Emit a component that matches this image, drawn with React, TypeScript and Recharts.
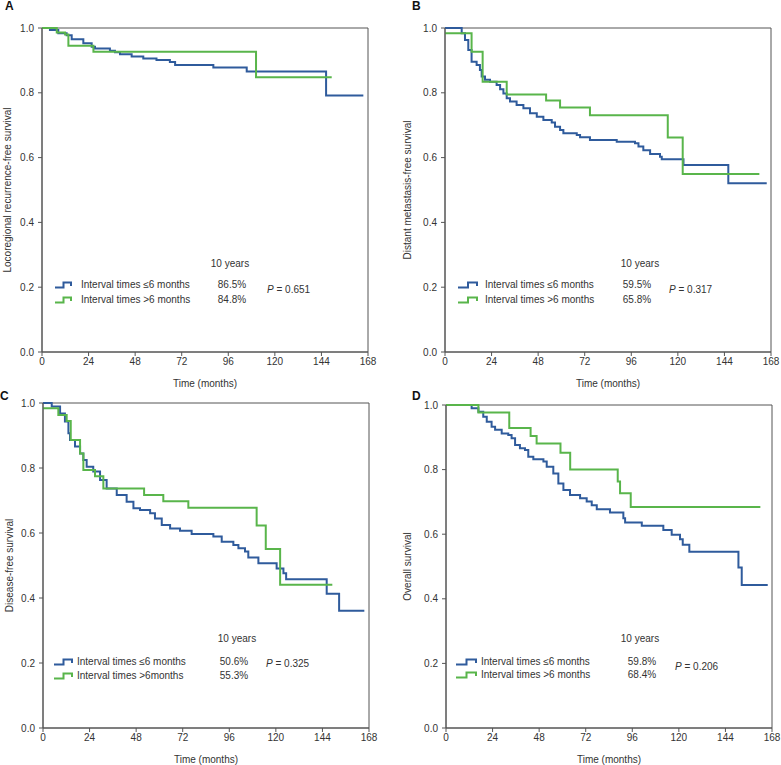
import React from 'react';
import { LineChart, Line, XAxis, YAxis, ReferenceArea } from 'recharts';

const monthTicks = [0, 24, 48, 72, 96, 120, 144, 168];
const survivalTicks = [0, 0.2, 0.4, 0.6, 0.8, 1.0];

const seriesNames = ['Interval times \u22646 months', 'Interval times >6 months'];

// Panel A: locoregional recurrence-free survival
const aShortTimes = [0, 4.1, 8.4, 12.7, 15.3, 21.3, 25.6, 27.3, 35, 37.6, 40.2, 46.2, 52.2, 59, 65.9, 68.6, 88.3, 105.5, 146.4, 165.6];
const aShortSurv = [1, 0.994, 0.984, 0.978, 0.965, 0.953, 0.942, 0.937, 0.93, 0.925, 0.919, 0.912, 0.906, 0.901, 0.895, 0.886, 0.878, 0.866, 0.792, 0.792];
const aLongTimes = [0, 7.6, 11.9, 13.6, 26.5, 110.3, 149.3];
const aLongSurv = [1, 0.986, 0.98, 0.945, 0.927, 0.848, 0.848];

// Panel B: distant metastasis-free survival
const bShortTimes = [0, 6.0, 8.6, 10.3, 12.0, 13.7, 16.3, 18.0, 18.9, 20.6, 23.2, 26.6, 28.4, 30.1, 31.8, 33.5, 36.9, 40.4, 43.8, 47.3, 50.7, 55.0, 56.7, 59.3, 61.0, 67.9, 69.6, 74.7, 88.5, 97.9, 99.7, 102.2, 105.7, 110.8, 111.7, 122.9, 146.0, 165.8];
const bShortSurv = [1, 1, 0.984, 0.963, 0.932, 0.896, 0.886, 0.87, 0.85, 0.84, 0.834, 0.824, 0.811, 0.798, 0.783, 0.773, 0.762, 0.752, 0.737, 0.726, 0.716, 0.708, 0.695, 0.685, 0.675, 0.67, 0.663, 0.654, 0.649, 0.644, 0.634, 0.623, 0.611, 0.603, 0.595, 0.577, 0.521, 0.521];
const bLongTimes = [0, 13.7, 19.4, 31.8, 52.1, 59.3, 74.7, 114.8, 122.5, 162];
const bLongSurv = [0.984, 0.927, 0.834, 0.795, 0.776, 0.755, 0.731, 0.662, 0.549, 0.549];

// Panel C: disease-free survival
const cShortTimes = [0, 4.5, 8.8, 11.3, 13.1, 13.9, 16.5, 19.1, 20.8, 22.5, 25.9, 29.4, 32.8, 38.0, 43.1, 46.6, 50.0, 55.2, 57.7, 61.2, 65.5, 70.6, 76.6, 87.8, 92.1, 98.1, 100.7, 104.1, 105.8, 111.0, 120.4, 123.9, 125.3, 146.2, 152.6, 165.6];
const cShortSurv = [1, 0.989, 0.968, 0.943, 0.907, 0.886, 0.866, 0.845, 0.825, 0.804, 0.789, 0.763, 0.737, 0.717, 0.696, 0.676, 0.671, 0.661, 0.645, 0.625, 0.614, 0.607, 0.597, 0.589, 0.573, 0.563, 0.553, 0.543, 0.525, 0.507, 0.491, 0.476, 0.458, 0.413, 0.361, 0.361];
const cLongTimes = [0, 7.9, 12.2, 14.3, 19.1, 20.8, 26.8, 31.1, 52.1, 62.0, 74.9, 110.1, 114.8, 122.2, 149.1];
const cLongSurv = [0.984, 0.963, 0.945, 0.886, 0.845, 0.794, 0.775, 0.737, 0.717, 0.698, 0.678, 0.623, 0.551, 0.441, 0.441];

// Panel D: overall survival
const dShortTimes = [0, 11.5, 13.2, 16.7, 19.2, 21.0, 23.5, 25.3, 28.7, 32.1, 33.8, 35.6, 38.1, 40.7, 42.4, 45.0, 50.2, 51.9, 55.3, 57.9, 60.5, 63.9, 69.1, 72.5, 75.1, 77.7, 84.5, 91.4, 92.3, 100.9, 112.0, 116.3, 120.6, 122.0, 125.4, 150.7, 152.4, 165.8];
const dShortSurv = [1, 1, 0.99, 0.979, 0.964, 0.948, 0.933, 0.923, 0.912, 0.907, 0.897, 0.876, 0.866, 0.861, 0.84, 0.832, 0.825, 0.809, 0.788, 0.757, 0.737, 0.721, 0.711, 0.701, 0.69, 0.677, 0.667, 0.649, 0.636, 0.626, 0.613, 0.598, 0.584, 0.567, 0.546, 0.497, 0.443, 0.443];
const dLongTimes = [0, 16.7, 32.6, 43.6, 46.7, 59.0, 64.0, 88.5, 89.7, 95.2, 162];
const dLongSurv = [1, 0.977, 0.929, 0.904, 0.881, 0.852, 0.8, 0.763, 0.727, 0.684, 0.684];

const zip = (t: number[], s: number[]) => t.map((v, i) => ({ t: v, s: s[i] }));

const BLUE = '#2f5b9c';
const GREEN = '#59b54b';
const AXIS = '#555';
const FONT = '"Liberation Sans", Arial, sans-serif';

type PanelProps = {
  left: number; top: number; width: number; height: number;
  margin: { top: number; right: number; bottom: number; left: number };
  yWidth: number; yTitle: string; yDx: number;
  shortData: { t: number; s: number }[]; longData: { t: number; s: number }[];
};

function Panel(p: PanelProps) {
  return (
    <div style={{ position: 'absolute', left: p.left, top: p.top }}>
      <LineChart width={p.width} height={p.height} margin={p.margin}>
        <XAxis type="number" dataKey="t" domain={[0, 168]} ticks={monthTicks} interval={0}
          allowDataOverflow stroke={AXIS} tickSize={4} tickMargin={2}
          tick={{ fill: '#333', fontSize: 10, fontFamily: FONT }} height={35}
          label={{ value: 'Time (months)', position: 'insideBottom', offset: 0, fill: '#333', fontSize: 10, fontFamily: FONT }} />
        <YAxis type="number" domain={[0, 1]} ticks={survivalTicks} interval={0} width={p.yWidth}
          stroke={AXIS} tickSize={4} tickMargin={4} tickFormatter={(v: number) => v.toFixed(1)}
          tick={{ fill: '#333', fontSize: 10, fontFamily: FONT }}
          label={{ value: p.yTitle, angle: -90, position: 'center', dx: p.yDx, fill: '#333', fontSize: 10, fontFamily: FONT }} />
        <ReferenceArea x1={0} x2={168} y1={0} y2={1} fill="none" stroke={AXIS} strokeWidth={1} ifOverflow="visible" />
        <Line data={p.shortData} dataKey="s" type="stepAfter" stroke={BLUE} strokeWidth={2} dot={false} isAnimationActive={false} />
        <Line data={p.longData} dataKey="s" type="stepAfter" stroke={GREEN} strokeWidth={2} dot={false} isAnimationActive={false} />
      </LineChart>
    </div>
  );
}

type NoteProps = {
  yearsX: number; yearsY: number; row1Y: number; row2Y: number;
  iconX: number; iconW: number; textX: number; pctX: number; pX: number; pY: number;
  pcts: string[]; pValue: string; names: string[];
};

const txt: React.CSSProperties = { position: 'absolute', fontFamily: FONT, fontSize: 10, color: '#333', whiteSpace: 'nowrap', lineHeight: '12px' };

function StepIcon({ x, y, w, color }: { x: number; y: number; w: number; color: string }) {
  return (
    <svg style={{ position: 'absolute', left: x, top: y - 4 }} width={w} height={8}>
      <path d={`M0,6.5 H${w * 0.5} V1.5 H${w - 1} V5`} fill="none" stroke={color} strokeWidth={2} />
    </svg>
  );
}

function Notes(n: NoteProps) {
  return (
    <>
      <div style={{ ...txt, left: n.yearsX - 40, width: 80, textAlign: 'center', top: n.yearsY - 6 }}>10 years</div>
      <StepIcon x={n.iconX} y={n.row1Y} w={n.iconW} color={BLUE} />
      <StepIcon x={n.iconX} y={n.row2Y} w={n.iconW} color={GREEN} />
      <div style={{ ...txt, left: n.textX, top: n.row1Y - 6 }}>{n.names[0]}</div>
      <div style={{ ...txt, left: n.textX, top: n.row2Y - 6 }}>{n.names[1]}</div>
      <div style={{ ...txt, left: n.pctX - 30, width: 60, textAlign: 'center', top: n.row1Y - 6 }}>{n.pcts[0]}</div>
      <div style={{ ...txt, left: n.pctX - 30, width: 60, textAlign: 'center', top: n.row2Y - 6 }}>{n.pcts[1]}</div>
      <div style={{ ...txt, left: n.pX, top: n.pY - 6 }}><i>P</i> = {n.pValue}</div>
    </>
  );
}

const letter: React.CSSProperties = { position: 'absolute', fontFamily: FONT, fontSize: 12, fontWeight: 'bold', color: '#111', lineHeight: '12px' };

export default function App() {
  return (
    <div style={{ position: 'absolute', left: 0, top: 0, width: 781, height: 765, background: '#fff', overflow: 'hidden' }}>
      <Panel left={0} top={0} width={390} height={395} margin={{ top: 28, right: 22, bottom: 8, left: 0 }}
        yWidth={42} yTitle="Locoregional recurrence-free survival" yDx={-14}
        shortData={zip(aShortTimes, aShortSurv)} longData={zip(aLongTimes, aLongSurv)} />
      <Panel left={390} top={0} width={391} height={395} margin={{ top: 28, right: 10, bottom: 8, left: 0 }}
        yWidth={55} yTitle="Distant metastasis-free survival" yDx={-10.5}
        shortData={zip(bShortTimes, bShortSurv)} longData={zip(bLongTimes, bLongSurv)} />
      <Panel left={0} top={375} width={390} height={390} margin={{ top: 28, right: 21, bottom: 2, left: 0 }}
        yWidth={43} yTitle="Disease-free survival" yDx={-12.5}
        shortData={zip(cShortTimes, cShortSurv)} longData={zip(cLongTimes, cLongSurv)} />
      <Panel left={390} top={375} width={391} height={390} margin={{ top: 30, right: 9, bottom: 2, left: 0 }}
        yWidth={56} yTitle="Overall survival" yDx={-11}
        shortData={zip(dShortTimes, dShortSurv)} longData={zip(dLongTimes, dLongSurv)} />

      <Notes yearsX={230} yearsY={264} row1Y={285} row2Y={300} iconX={55} iconW={17} textX={81} pctX={232} pX={267} pY={290}
        pcts={['86.5%', '84.8%']} pValue="0.651" names={seriesNames} />
      <Notes yearsX={640} yearsY={264} row1Y={285} row2Y={300} iconX={458} iconW={20} textX={485} pctX={637} pX={669} pY={290}
        pcts={['59.5%', '65.8%']} pValue="0.317" names={seriesNames} />
      <Notes yearsX={237} yearsY={639} row1Y={662} row2Y={676} iconX={54} iconW={19} textX={77} pctX={234} pX={266} pY={664}
        pcts={['50.6%', '55.3%']} pValue="0.325" names={['Interval times \u22646 months', 'Interval times >6months']} />
      <Notes yearsX={640} yearsY={639} row1Y={662} row2Y={675} iconX={456} iconW={21} textX={481} pctX={642} pX={675} pY={667}
        pcts={['59.8%', '68.4%']} pValue="0.206" names={seriesNames} />

      <div style={{ ...letter, left: 5, top: 0 }}>A</div>
      <div style={{ ...letter, left: 412, top: 0 }}>B</div>
      <div style={{ ...letter, left: 0, top: 390 }}>C</div>
      <div style={{ ...letter, left: 412, top: 390 }}>D</div>
    </div>
  );
}
